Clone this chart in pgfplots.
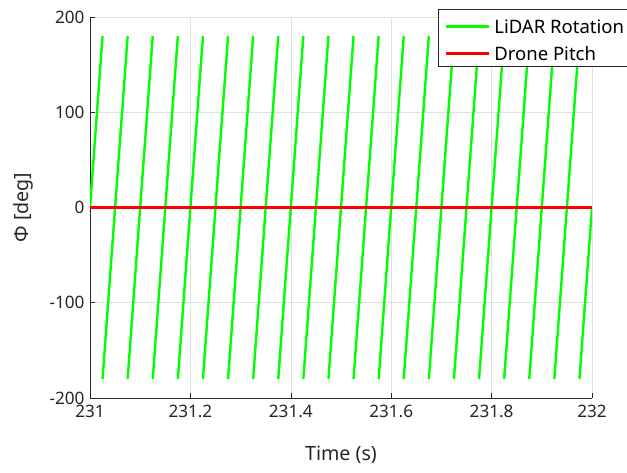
\documentclass[border=0pt]{standalone}
\usepackage{fontspec}
\setmainfont{Noto Sans}
\usepackage{pgfplots}
\pgfplotsset{compat=1.18}
\definecolor{axgray}{rgb}{0.15,0.15,0.15}
\definecolor{gridgray}{rgb}{0.88,0.88,0.88}
\begin{document}
\begin{tikzpicture}
\path[use as bounding box] (-90bp,-75bp) rectangle (537bp,398bp);
\begin{axis}[
  scale only axis,
  width=502bp, height=381bp,
  xmin=231, xmax=232, ymin=-200, ymax=200,
  axis x line*=bottom, axis y line*=left,
  axis line style={axgray, line width=0.6bp},
  every tick/.style={axgray, line width=0.6bp},
  tick align=inside,
  major tick length=5bp,
  xtick={231,231.2,231.4,231.6,231.8,232},
  xticklabels={231,231.2,231.4,231.6,231.8,232},
  ytick={-200,-100,0,100,200},
  yticklabels={-200,-100,0,100,200},
  tick label style={font=\fontsize{17.2}{20}\selectfont, text=axgray},
  xticklabel style={yshift=-3.5bp},
  yticklabel style={xshift=-2bp},
  grid=major,
  grid style={gridgray, line width=0.6bp},
  xlabel={Time (s)},
  ylabel={Φ [deg]},
  every axis x label/.style={at={(rel axis cs:0.5,0)}, anchor=center, yshift=-57bp},
  every axis y label/.style={at={(rel axis cs:0,0.5)}, anchor=center, xshift=-67bp, rotate=90},
  label style={font=\fontsize{19.7}{23}\selectfont, text=axgray},
  unbounded coords=jump,
  legend style={at={(0.6932,1.021)}, anchor=north west, draw=axgray, fill=white,
    font=\fontsize{18.6}{22}\selectfont, line width=0.6bp,
    inner xsep=6bp, inner ysep=6bp, row sep=9bp, column sep=4bp,
    nodes={inner sep=0pt, text height=18bp, text depth=0bp}},
  legend cell align=left,
  legend image code/.code={\draw[#1] (0bp,-2.4bp) -- (43bp,-2.4bp);},
]
\addplot[color={rgb,1:red,0;green,1;blue,0}, line width=2.4bp] coordinates {
(231.000,0) (231.025,180) (nan,nan)
(231.025,-180) (231.075,180) (nan,nan)
(231.075,-180) (231.125,180) (nan,nan)
(231.125,-180) (231.175,180) (nan,nan)
(231.175,-180) (231.225,180) (nan,nan)
(231.225,-180) (231.275,180) (nan,nan)
(231.275,-180) (231.325,180) (nan,nan)
(231.325,-180) (231.375,180) (nan,nan)
(231.375,-180) (231.425,180) (nan,nan)
(231.425,-180) (231.475,180) (nan,nan)
(231.475,-180) (231.525,180) (nan,nan)
(231.525,-180) (231.575,180) (nan,nan)
(231.575,-180) (231.625,180) (nan,nan)
(231.625,-180) (231.675,180) (nan,nan)
(231.675,-180) (231.725,180) (nan,nan)
(231.725,-180) (231.775,180) (nan,nan)
(231.775,-180) (231.825,180) (nan,nan)
(231.825,-180) (231.875,180) (nan,nan)
(231.875,-180) (231.925,180) (nan,nan)
(231.925,-180) (231.975,180) (nan,nan)
(231.975,-180) (232.000,0)
};
\addlegendentry{LiDAR Rotation}
\addplot[color={rgb,1:red,1;green,0;blue,0}, line width=3bp] coordinates {
(231,0) (232,0)
};
\addlegendentry{Drone Pitch}
\end{axis}
\end{tikzpicture}
\end{document}
